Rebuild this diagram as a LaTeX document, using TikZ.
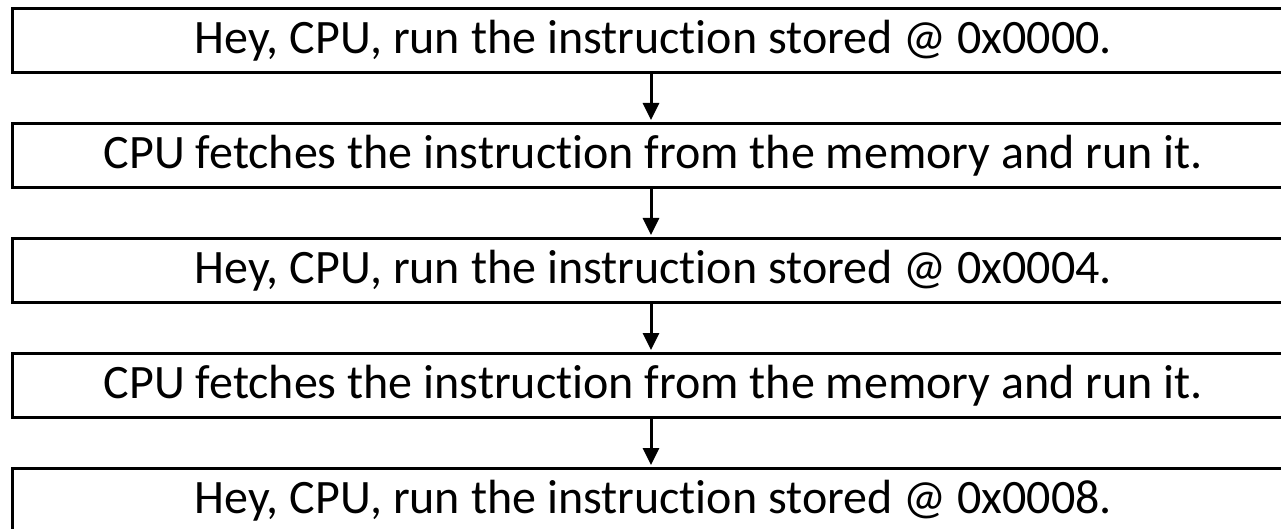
\documentclass[tikz,border=0pt]{standalone}
\usepackage{fontspec}
\setmainfont{Carlito}[Ligatures=NoCommon]
\usetikzlibrary{arrows.meta}
% separate "t" and "i" so the font does not join them
\newcommand\instr{instruc\kern0pt tion}
\begin{document}
\begin{tikzpicture}[x=1pt,y=-1pt,
  stepbox/.style={draw=black, line width=2.8pt, minimum width=1282pt, minimum height=64pt,
    inner sep=0pt, anchor=north west, font=\fontsize{48}{48}\selectfont},
  flow/.style={line width=3pt, -{Triangle[width=16pt,length=17pt]}, shorten >=2pt}]
  \useasboundingbox (0,0) rectangle (1281,529);
  \clip (0,0) rectangle (1281,529);
  \node[stepbox] (s1) at (11,7)   {Hey, CPU, run the \instr{} stored @ 0x0000.};
  \node[stepbox] (s2) at (11,122) {CPU fetches the \instr{} from the memory and run it.};
  \node[stepbox] (s3) at (11,237) {Hey, CPU, run the \instr{} stored @ 0x0004.};
  \node[stepbox] (s4) at (11,352) {CPU fetches the \instr{} from the memory and run it.};
  \node[stepbox] (s5) at (11,467) {Hey, CPU, run the \instr{} stored @ 0x0008.};
  \foreach \a/\b in {s1/s2, s2/s3, s3/s4, s4/s5}
    \draw[flow] (\a.south west) ++(640,0) coordinate (t\a) -- (t\a |- \b.north);
\end{tikzpicture}
\end{document}
